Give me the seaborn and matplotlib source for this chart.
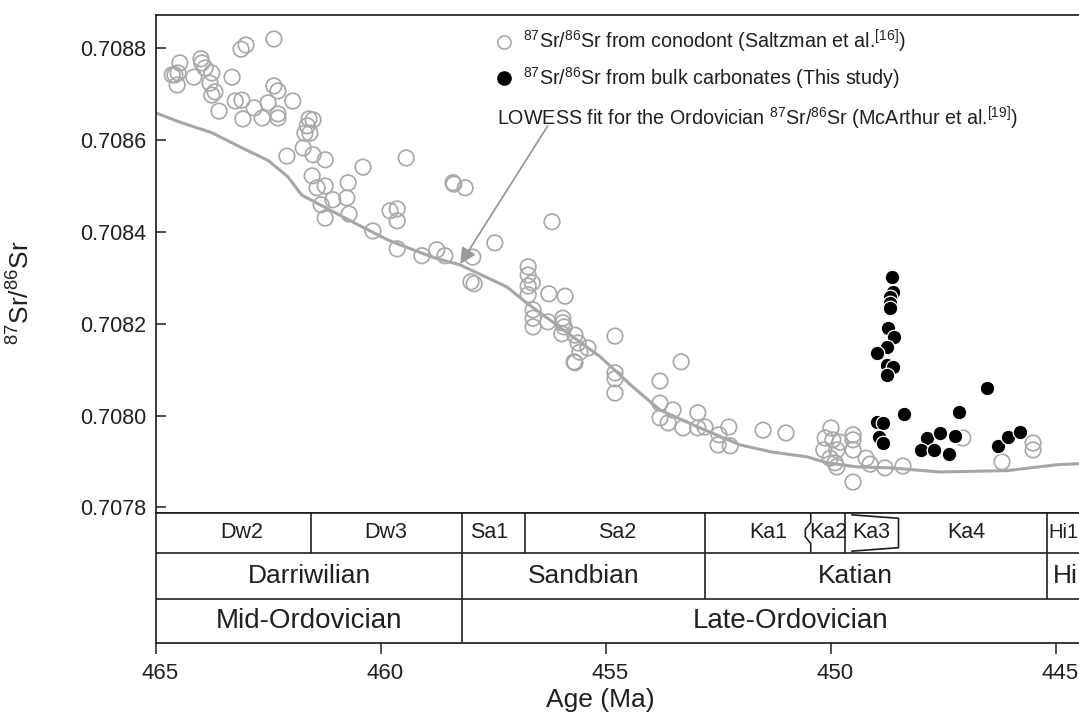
import numpy as np
import pandas as pd
import matplotlib
matplotlib.use("Agg")
import matplotlib.pyplot as plt
import seaborn as sns
from matplotlib.lines import Line2D
from matplotlib import font_manager as fm
from matplotlib.transforms import ScaledTranslation

# ---------------------------------------------------------------- data
# LOWESS fit for the Ordovician 87Sr/86Sr (McArthur et al.)
lowess_age = [465.0, 464.5, 463.76, 463.09, 462.5, 462.07, 461.76, 460.58, 459.84,
              459.58, 458.8, 458.24, 457.2, 456.76, 455.73, 455.13, 454.4, 453.8,
              452.91, 452.02, 451.29, 450.53, 450.09, 449.42, 448.69, 447.58,
              446.09, 444.96, 444.0]
lowess_sr = [0.708659, 0.708640, 0.708616, 0.708583, 0.708555, 0.708520, 0.708480,
             0.708419, 0.708382, 0.708372, 0.708343, 0.708328, 0.708280, 0.708245,
             0.708171, 0.708128, 0.708062, 0.708012, 0.707973, 0.707936, 0.707920,
             0.707910, 0.707897, 0.707888, 0.707886, 0.707877, 0.707880, 0.707893,
             0.707897]

# conodont apatite (Saltzman et al.)
cono_age = [464.47, 464.58, 464.64, 464.51, 464.53, 464.16, 464.00, 463.98, 463.91,
            463.76, 463.80, 463.69, 463.76, 463.60, 463.31, 463.24, 463.09, 463.11,
            463.00, 462.38, 463.07, 462.82, 462.64, 462.51, 462.38, 462.29, 462.29,
            462.29, 461.96, 461.60, 461.51, 461.64, 461.69, 461.58, 461.73, 462.09,
            461.51, 461.24, 461.53, 461.42, 461.24, 460.73, 460.76, 461.07, 461.33,
            461.24, 460.71, 460.40, 459.44, 460.18, 459.80, 459.64, 459.64, 458.40,
            458.38, 458.13, 459.64, 459.09, 458.76, 458.58, 457.96,
            458.00, 457.93, 457.47, 456.20, 456.73, 456.73, 456.64, 456.73, 456.73,
            456.27, 455.91, 456.62, 456.62, 456.62, 456.29, 455.96, 455.96, 455.93,
            455.98, 455.69, 455.62, 455.58, 455.40, 455.71, 455.69, 454.80, 453.33,
            454.80, 454.80, 454.80, 453.80, 453.80, 453.51, 453.80, 453.62, 453.29,
            452.96, 452.96, 452.80, 452.49, 452.27, 452.51, 452.24,
            451.51, 451.00, 450.00, 450.13, 449.96, 450.16, 449.87, 450.02, 449.91,
            449.87, 449.51, 449.51, 449.51, 449.22, 449.13, 448.80, 448.40, 449.51,
            449.80, 447.07, 446.20, 445.51, 445.51]
cono_sr = [0.708768, 0.708742, 0.708742, 0.708746, 0.708720, 0.708737, 0.708777,
           0.708768, 0.708757, 0.708746, 0.708724, 0.708705, 0.708698, 0.708663,
           0.708737, 0.708685, 0.708687, 0.708798, 0.708807, 0.708820, 0.708646,
           0.708670, 0.708648, 0.708681, 0.708718, 0.708707, 0.708657, 0.708648,
           0.708685, 0.708646, 0.708644, 0.708631, 0.708615, 0.708615, 0.708583,
           0.708565, 0.708568, 0.708557, 0.708522, 0.708496, 0.708500, 0.708507,
           0.708474, 0.708470, 0.708459, 0.708430, 0.708439, 0.708541, 0.708561,
           0.708402, 0.708446, 0.708450, 0.708424, 0.708507, 0.708504, 0.708496,
           0.708363, 0.708348, 0.708361, 0.708348, 0.708345,
           0.708291, 0.708287, 0.708376, 0.708422, 0.708324, 0.708306, 0.708289,
           0.708282, 0.708263, 0.708265, 0.708260, 0.708230, 0.708212, 0.708193,
           0.708204, 0.708212, 0.708202, 0.708193, 0.708178, 0.708175, 0.708158,
           0.708138, 0.708147, 0.708117, 0.708115, 0.708173, 0.708117, 0.708093,
           0.708080, 0.708049, 0.708075, 0.708027, 0.708012, 0.707995, 0.707984,
           0.707973, 0.708006, 0.707973, 0.707975, 0.707958, 0.707975, 0.707936,
           0.707934,
           0.707968, 0.707962, 0.707973, 0.707951, 0.707947, 0.707925, 0.707925,
           0.707907, 0.707897, 0.707888, 0.707958, 0.707947, 0.707925, 0.707907,
           0.707894, 0.707886, 0.707890, 0.707855,
           0.707942, 0.707951, 0.707899, 0.707940, 0.707925]

# bulk carbonates (this study)
bulk_age = [448.64, 448.62, 448.69, 448.69, 448.69, 448.73, 448.60, 448.76, 448.98,
            448.76, 448.62, 448.76, 448.98, 448.84, 448.93, 448.84, 448.38, 447.87,
            447.58, 447.24, 448.00, 447.71, 447.38, 447.16, 446.53, 446.29, 446.07,
            445.80]
bulk_sr = [0.708302, 0.708269, 0.708258, 0.708245, 0.708234, 0.708191, 0.708171,
           0.708149, 0.708136, 0.708110, 0.708106, 0.708088, 0.707986, 0.707984,
           0.707953, 0.707940, 0.708003, 0.707951, 0.707962, 0.707955, 0.707925,
           0.707925, 0.707916, 0.708008, 0.708060, 0.707934, 0.707953, 0.707964]

# chronostratigraphic chart
slice_labels = ["Dw2", "Dw3", "Sa1", "Sa2", "Ka1", "Ka2", "Ka3", "Ka4"]
slice_label_age = [463.1, 459.9, 457.6, 454.75, 451.4, 450.07, 449.1, 447.0]
slice_bounds = [461.55, 458.2, 456.8, 452.8, 449.7, 445.2]
ka2_base, ka4_base = 450.45, 448.5
stage_bounds = [458.2, 452.8, 445.2]
stage_labels = ["Darriwilian", "Sandbian", "Katian"]
stage_label_age = [461.6, 455.5, 449.45]
series_bound = 458.2
series_labels = ["Mid-Ordovician", "Late-Ordovician"]
series_label_age = [461.6, 450.9]
hirnantian_base = 445.2

age_ticks = [465, 460, 455, 450, 445]
sr_ticks = [0.7078, 0.7080, 0.7082, 0.7084, 0.7086, 0.7088]

# ---------------------------------------------------------------- style
sns.set_theme(style="ticks")


def pick_font(cands):
    for name in cands:
        try:
            fm.findfont(fm.FontProperties(family=name), fallback_to_default=False)
            return name
        except ValueError:
            pass
    return "DejaVu Sans"


REG = pick_font(["Liberation Sans", "Arimo", "DejaVu Sans"])

plt.rcParams["font.family"] = [REG, "DejaVu Sans"]
plt.rcParams["mathtext.default"] = "regular"
plt.rcParams["axes.linewidth"] = 1.2
plt.rcParams["axes.edgecolor"] = "#1a1a1a"

GRAY = "#a9a9a9"
LINE = "#a6a6a6"
INK = "#231f20"

W, H = 1079, 725
fig = plt.figure(figsize=(W / 100, H / 100), dpi=100)

x0, x1 = 156, 1101
ax = fig.add_axes([x0 / W, 1 - 513.3 / H, (x1 - x0) / W, (513.3 - 14.7) / H])
tab = fig.add_axes([x0 / W, 1 - 643.3 / H, (x1 - x0) / W, 130 / H], sharex=ax)

# ---------------------------------------------------------------- data panel
sns.lineplot(x=lowess_age, y=lowess_sr, ax=ax, sort=False, estimator=None,
             color=LINE, lw=2.2, zorder=2)
sns.scatterplot(x=cono_age, y=cono_sr, ax=ax, marker="o", s=125,
                facecolors="none", edgecolor=GRAY, linewidth=1.25, zorder=3)
sns.scatterplot(x=bulk_age, y=bulk_sr, ax=ax, marker="o", s=110,
                color="black", edgecolor="white", linewidth=0.9, zorder=4)

ax.set_xlim(465, 444)
ax.set_ylim(0.707787, 0.708873)
ax.set_yticks(sr_ticks)
ax.set_yticklabels([f"{v:.4f}" for v in sr_ticks])
ax.tick_params(axis="y", direction="in", length=7, width=1.1, pad=7,
               labelsize=15.5, colors=INK)
ax.tick_params(axis="x", bottom=False, labelbottom=False)
ax.spines["right"].set_visible(False)
ax.set_xlabel("")
ax.set_ylabel("")

# legend (markers only)
fs_leg = 14.2
handles = [
    Line2D([], [], ls="", marker="o", ms=9.5, mfc="white", mec=GRAY, mew=1.2),
    Line2D([], [], ls="", marker="o", ms=9.5, mfc="black", mec="black"),
]
labels = [r"$^{87}$Sr/$^{86}$Sr from conodont (Saltzman et al.$^{[16]}$)",
          r"$^{87}$Sr/$^{86}$Sr from bulk carbonates (This study)"]
leg = ax.legend(handles, labels, loc="upper left",
                bbox_to_anchor=((494 - x0) / (x1 - x0), (513.3 - 28) / 498.6),
                frameon=False, borderpad=0, borderaxespad=0, handlelength=1.0,
                handletextpad=0.45, labelspacing=0.5,
                prop=fm.FontProperties(family=REG, size=fs_leg))
for t in leg.get_texts():
    t.set_color(INK)

ax.text((497 - x0) / (x1 - x0), (513.3 - 118) / 498.6,
        r"LOWESS fit for the Ordovician $^{87}$Sr/$^{86}$Sr (McArthur et al.$^{[19]}$)",
        transform=ax.transAxes, ha="left", va="center", color=INK,
        fontsize=fs_leg)
ax.annotate("", xy=(458.24, 0.708330), xytext=(456.3, 0.708630),
            arrowprops=dict(arrowstyle="-|>", color="#9a9a9a", lw=1.3,
                            mutation_scale=24, shrinkA=0, shrinkB=0), zorder=5)

# ---------------------------------------------------------------- chart panel
tab.set_ylim(0, 130)
r1, r2, top = 44.3, 90.6, 130
kw = dict(color=INK, lw=1.2, solid_capstyle="butt")
for yy in (r1, r2):
    tab.axhline(yy, **kw)
tab.plot([series_bound, series_bound], [0, r1], **kw)
for b in stage_bounds:
    tab.plot([b, b], [r1, r2], **kw)
for b in slice_bounds:
    tab.plot([b, b], [r2, top], **kw)
# uncertain boundaries drawn as brackets
b = ka2_base
tab.plot([b, b, b + 0.12, b + 0.12, b, b],
         [top, top - 9, top - 16, r2 + 16, r2 + 9, r2], **kw)
b = ka4_base
tab.plot([449.55, b, b, 449.55],
         [top - 1.5, top - 5, r2 + 5, r2 + 1.5], **kw)

fs_sl, fs_st, fs_se = 15.5, 19, 20
for lab, a in zip(slice_labels, slice_label_age):
    tab.text(a, (r2 + top) / 2, lab, ha="center", va="center",
             fontsize=fs_sl, color=INK)
tab.text(hirnantian_base - 0.04, (r2 + top) / 2, "Hi1", ha="left", va="center",
         fontsize=14.5, color=INK)
for lab, a in zip(stage_labels, stage_label_age):
    tab.text(a, (r1 + r2) / 2, lab, ha="center", va="center",
             fontsize=fs_st, color=INK)
tab.text(hirnantian_base - 0.12, (r1 + r2) / 2, "Hi", ha="left",
         va="center", fontsize=fs_st, color=INK)
for lab, a in zip(series_labels, series_label_age):
    tab.text(a, r1 / 2, lab, ha="center", va="center",
             fontsize=fs_se, color=INK)

tab.set_yticks([])
tab.spines["right"].set_visible(False)
tab.set_xticks(age_ticks)
tab.set_xticklabels([str(v) for v in age_ticks])
tab.tick_params(axis="x", direction="out", length=8, width=1.1, pad=6,
                labelsize=16, colors=INK)
shift = ScaledTranslation(4 / 100, 0, fig.dpi_scale_trans)
for lab in tab.get_xticklabels():
    lab.set_transform(lab.get_transform() + shift)

# axis titles
fig.text(600 / W, 1 - 700 / H, "Age (Ma)", ha="center", va="center",
         fontsize=19, color=INK)
fig.text(21 / W, 1 - 293 / H, r"$^{87}$Sr/$^{86}$Sr", ha="center", va="center",
         rotation=90, fontsize=19, color=INK)

fig.savefig("out.png", dpi=100)
